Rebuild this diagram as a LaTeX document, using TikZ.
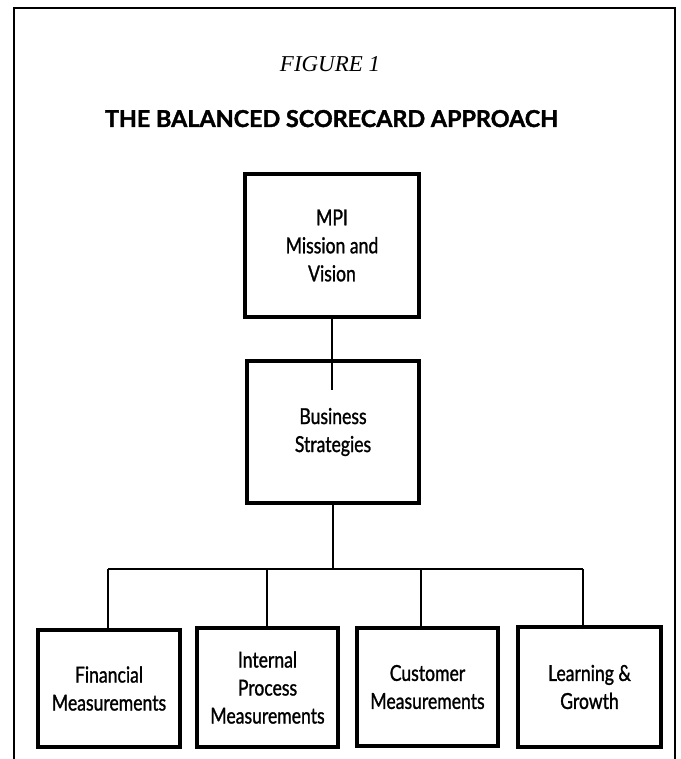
\documentclass[tikz,border=0pt]{standalone}
\usepackage{fontspec}
\usepackage{graphicx}
\setmainfont{Liberation Serif}
\newfontfamily\boxfont[FakeStretch=0.8,FakeBold=1.2]{Lato}
\newfontfamily\titlefont[FakeBold=1.5]{Lato}
\begin{document}
\begin{tikzpicture}[x=1pt,y=-1pt,
  box/.style={draw, line width=3.2pt, rectangle, inner sep=0pt, align=center,
    font=\boxfont\fontsize{22}{28}\selectfont},
  link/.style={line width=2.6pt},
  frameline/.style={line width=2.8pt}]
\useasboundingbox (0,0) rectangle (680,759);
% frame
\draw[frameline] (14,759) -- (14,8) -- (675,8) -- (675,759);
% titles
\node[anchor=base, inner sep=0pt] (fig) at (330,72)
  {\resizebox{100pt}{15pt}{\itshape FIGURE 1}};
\node[anchor=base, inner sep=0pt] (title) at (331.5,127)
  {\resizebox{453pt}{17pt}{\titlefont\bfseries THE BALANCED SCORECARD APPROACH}};
% boxes
\node[box, minimum width=174pt, minimum height=143pt] (mpi) at (332,245.5)
  {MPI\\Mission and\\Vision};
\node[box, minimum width=172pt, minimum height=142pt] (bs) at (333,432)
  {Business\\Strategies};
\node[box, minimum width=142pt, minimum height=117pt] (fin) at (109,688.5)
  {Financial\\Measurements};
\node[box, minimum width=141pt, minimum height=119pt] (ipm) at (267.5,687.5)
  {Internal\\Process\\Measurements};
\node[box, minimum width=141pt, minimum height=118pt] (cus) at (427.5,687)
  {Customer\\Measurements};
\node[box, minimum width=143pt, minimum height=120pt] (lg) at (589.5,687)
  {Learning \&\\Growth};
% connectors
\coordinate (bsin) at (332,390);
\draw[link] (mpi.south) -- (bsin);
\coordinate (bus) at (333,569);
\coordinate (b1) at (108,569);
\coordinate (b2) at (267,569);
\coordinate (b3) at (421,569);
\coordinate (b4) at (583,569);
\draw[link] (bs.south) -- (bus);
\draw[link] (b1) -- (b4);
\draw[link] (b1) -- (b1 |- fin.north);
\draw[link] (b2) -- (b2 |- ipm.north);
\draw[link] (b3) -- (b3 |- cus.north);
\draw[link] (b4) -- (b4 |- lg.north);
\end{tikzpicture}
\end{document}
